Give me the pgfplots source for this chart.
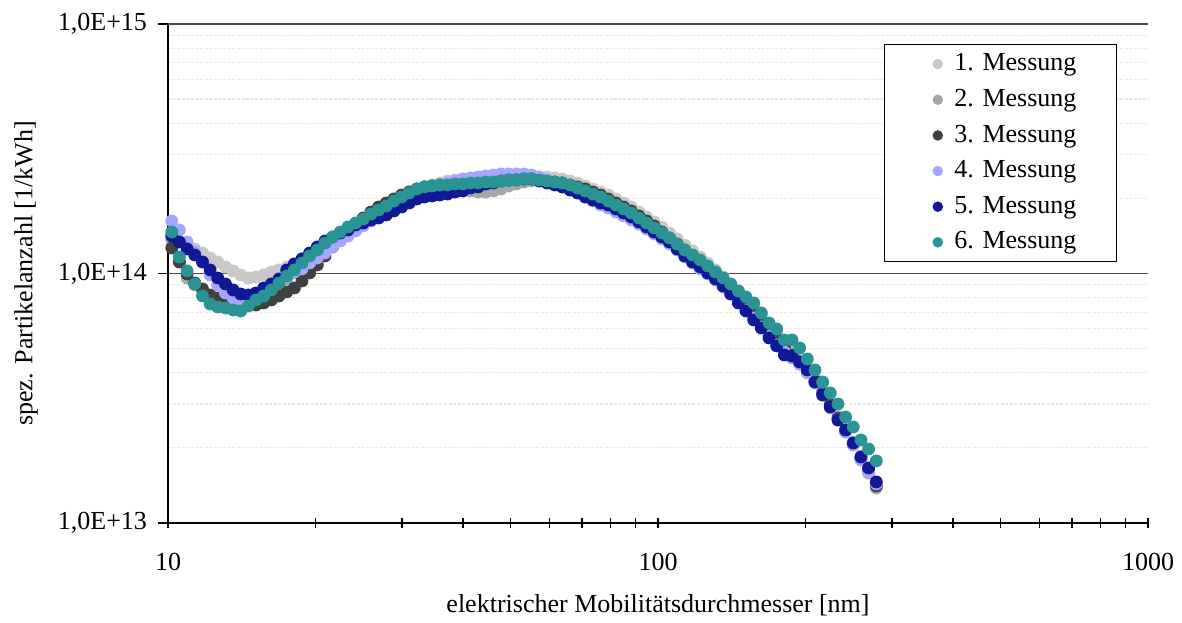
\documentclass[border=0pt]{standalone}
\usepackage{fontspec}
\setmainfont{Liberation Serif}
\usepackage{pgfplots}
\pgfplotsset{compat=1.18}
\usepackage{pgfplotstable}
\definecolor{cA}{HTML}{C8C8C8}
\definecolor{cB}{HTML}{A6A6A6}
\definecolor{cC}{HTML}{404040}
\definecolor{cD}{HTML}{A6A6FF}
\definecolor{cE}{HTML}{101896}
\definecolor{cF}{HTML}{2A9494}
\pgfplotstableread{
d m1 m2 m3 m4 m5 m6
10.18 1.413e14 1.362e14 1.265e14 1.623e14 1.413e14 1.466e14
10.55 1.337e14 1.112e14 1.112e14 1.494e14 1.337e14 1.164e14
10.94 1.289e14 0.9594e14 0.9955e14 1.337e14 1.254e14 1.024e14
11.34 1.253e14 0.8992e14 0.9160e14 1.219e14 1.186e14 0.9075e14
11.76 1.208e14 0.8508e14 0.8666e14 1.112e14 1.112e14 0.8124e14
12.19 1.154e14 0.8124e14 0.8199e14 0.9863e14 1.033e14 0.7547e14
12.63 1.112e14 0.7902e14 0.7975e14 0.8992e14 0.9594e14 0.7341e14
13.10 1.062e14 0.7759e14 0.7831e14 0.8352e14 0.9075e14 0.7273e14
13.58 1.023e14 0.7687e14 0.7687e14 0.7975e14 0.8587e14 0.7140e14
14.07 0.9863e14 0.7617e14 0.7617e14 0.7687e14 0.8275e14 0.7074e14
14.59 0.9594e14 0.7687e14 0.7477e14 0.7759e14 0.8199e14 0.7409e14
15.12 0.9683e14 0.7902e14 0.7477e14 0.8049e14 0.8352e14 0.7831e14
15.68 0.9863e14 0.8199e14 0.7617e14 0.8429e14 0.8748e14 0.8124e14
16.25 1.014e14 0.8587e14 0.7831e14 0.8827e14 0.9075e14 0.8587e14
16.85 1.033e14 0.8992e14 0.8124e14 0.9243e14 0.9505e14 0.9160e14
17.47 1.062e14 0.9505e14 0.8429e14 0.9683e14 1.033e14 0.9773e14
18.11 1.092e14 1.005e14 0.8748e14 1.014e14 1.092e14 1.033e14
18.77 1.133e14 1.072e14 0.9330e14 1.043e14 1.144e14 1.102e14
19.46 1.186e14 1.144e14 1.005e14 1.102e14 1.208e14 1.175e14
20.17 1.242e14 1.219e14 1.082e14 1.154e14 1.277e14 1.242e14
20.91 1.300e14 1.300e14 1.175e14 1.208e14 1.349e14 1.325e14
21.68 1.362e14 1.375e14 1.277e14 1.277e14 1.400e14 1.400e14
22.47 1.427e14 1.440e14 1.375e14 1.349e14 1.453e14 1.466e14
23.30 1.480e14 1.507e14 1.480e14 1.413e14 1.494e14 1.536e14
24.15 1.536e14 1.578e14 1.578e14 1.480e14 1.565e14 1.593e14
25.03 1.608e14 1.653e14 1.669e14 1.550e14 1.593e14 1.653e14
25.95 1.684e14 1.732e14 1.764e14 1.623e14 1.638e14 1.732e14
26.90 1.764e14 1.814e14 1.847e14 1.700e14 1.669e14 1.797e14
27.89 1.830e14 1.898e14 1.916e14 1.764e14 1.715e14 1.865e14
28.91 1.916e14 1.970e14 1.988e14 1.830e14 1.780e14 1.952e14
29.97 1.988e14 2.044e14 2.063e14 1.898e14 1.847e14 2.025e14
31.07 2.063e14 2.121e14 2.121e14 1.970e14 1.916e14 2.102e14
32.20 2.141e14 2.181e14 2.181e14 2.044e14 1.988e14 2.181e14
33.38 2.201e14 2.222e14 2.222e14 2.121e14 2.025e14 2.222e14
34.61 2.263e14 2.242e14 2.242e14 2.181e14 2.044e14 2.242e14
35.87 2.305e14 2.242e14 2.263e14 2.242e14 2.063e14 2.263e14
37.19 2.348e14 2.222e14 2.284e14 2.305e14 2.082e14 2.263e14
38.55 2.370e14 2.201e14 2.305e14 2.348e14 2.121e14 2.284e14
39.96 2.392e14 2.161e14 2.305e14 2.392e14 2.141e14 2.284e14
41.43 2.370e14 2.141e14 2.326e14 2.415e14 2.201e14 2.305e14
42.94 2.348e14 2.121e14 2.326e14 2.437e14 2.222e14 2.305e14
44.52 2.348e14 2.121e14 2.348e14 2.459e14 2.284e14 2.326e14
46.15 2.348e14 2.141e14 2.348e14 2.482e14 2.305e14 2.326e14
47.84 2.370e14 2.181e14 2.370e14 2.505e14 2.348e14 2.348e14
49.59 2.392e14 2.242e14 2.370e14 2.505e14 2.370e14 2.370e14
51.41 2.415e14 2.284e14 2.392e14 2.505e14 2.370e14 2.370e14
53.29 2.437e14 2.326e14 2.392e14 2.505e14 2.392e14 2.392e14
55.24 2.437e14 2.348e14 2.392e14 2.482e14 2.392e14 2.392e14
57.27 2.437e14 2.348e14 2.370e14 2.437e14 2.348e14 2.370e14
59.36 2.437e14 2.348e14 2.348e14 2.370e14 2.305e14 2.348e14
61.54 2.415e14 2.326e14 2.326e14 2.305e14 2.263e14 2.326e14
63.79 2.392e14 2.305e14 2.305e14 2.222e14 2.222e14 2.305e14
66.13 2.348e14 2.263e14 2.263e14 2.161e14 2.161e14 2.263e14
68.55 2.305e14 2.222e14 2.222e14 2.102e14 2.102e14 2.201e14
71.06 2.242e14 2.161e14 2.181e14 2.025e14 2.025e14 2.141e14
73.66 2.181e14 2.102e14 2.121e14 1.952e14 1.970e14 2.082e14
76.36 2.121e14 2.025e14 2.063e14 1.881e14 1.916e14 2.025e14
79.16 2.063e14 1.952e14 1.988e14 1.830e14 1.881e14 1.952e14
82.06 1.988e14 1.881e14 1.916e14 1.764e14 1.814e14 1.881e14
85.06 1.916e14 1.814e14 1.847e14 1.700e14 1.748e14 1.814e14
88.18 1.847e14 1.748e14 1.780e14 1.638e14 1.684e14 1.748e14
91.41 1.764e14 1.669e14 1.700e14 1.578e14 1.608e14 1.669e14
94.75 1.684e14 1.593e14 1.623e14 1.507e14 1.536e14 1.593e14
98.22 1.608e14 1.522e14 1.550e14 1.440e14 1.466e14 1.522e14
101.8 1.536e14 1.440e14 1.466e14 1.375e14 1.400e14 1.453e14
105.5 1.453e14 1.362e14 1.388e14 1.313e14 1.337e14 1.388e14
109.4 1.375e14 1.289e14 1.313e14 1.242e14 1.254e14 1.313e14
113.4 1.300e14 1.219e14 1.242e14 1.164e14 1.175e14 1.242e14
117.6 1.231e14 1.154e14 1.175e14 1.102e14 1.112e14 1.186e14
121.9 1.164e14 1.092e14 1.112e14 1.043e14 1.062e14 1.133e14
126.3 1.102e14 1.033e14 1.043e14 0.9955e14 1.005e14 1.072e14
131.0 1.033e14 0.9683e14 0.9863e14 0.9417e14 0.9505e14 1.014e14
135.8 0.9683e14 0.9075e14 0.9243e14 0.8827e14 0.8909e14 0.9594e14
140.7 0.9075e14 0.8508e14 0.8666e14 0.8275e14 0.8275e14 0.9075e14
145.9 0.8508e14 0.7902e14 0.8049e14 0.7687e14 0.7617e14 0.8508e14
151.2 0.7902e14 0.7341e14 0.7477e14 0.7140e14 0.7074e14 0.8049e14
156.8 0.7341e14 0.6818e14 0.6945e14 0.6631e14 0.6511e14 0.7617e14
162.5 0.6818e14 0.6275e14 0.6451e14 0.6103e14 0.6047e14 0.6945e14
168.5 0.6275e14 0.5775e14 0.5937e14 0.5617e14 0.5517e14 0.6333e14
174.7 0.5775e14 0.5315e14 0.5463e14 0.5170e14 0.5123e14 0.5992e14
181.1 0.5315e14 0.4937e14 0.5076e14 0.4846e14 0.4714e14 0.5415e14
187.7 0.4937e14 0.4628e14 0.4714e14 0.4585e14 0.4671e14 0.5415e14
194.6 0.4585e14 0.4337e14 0.4418e14 0.4337e14 0.4418e14 0.5030e14
201.7 0.4219e14 0.4029e14 0.4067e14 0.3993e14 0.4105e14 0.4543e14
209.1 0.3813e14 0.3673e14 0.3708e14 0.3640e14 0.3673e14 0.4105e14
216.8 0.3412e14 0.3288e14 0.3319e14 0.3258e14 0.3258e14 0.3673e14
224.7 0.3027e14 0.2944e14 0.2971e14 0.2890e14 0.2917e14 0.3319e14
233.0 0.2684e14 0.2611e14 0.2635e14 0.2587e14 0.2587e14 0.2999e14
241.5 0.2381e14 0.2315e14 0.2337e14 0.2315e14 0.2359e14 0.2659e14
250.3 0.2111e14 0.2054e14 0.2073e14 0.2054e14 0.2092e14 0.2425e14
259.5 0.1856e14 0.1805e14 0.1822e14 0.1789e14 0.1839e14 0.2151e14
269.0 0.1631e14 0.1586e14 0.1616e14 0.1601e14 0.1662e14 0.1979e14
278.9 0.1394e14 0.1381e14 0.1407e14 0.1433e14 0.1460e14 0.1773e14
}\data
\begin{document}
\fontsize{13}{15.6}\selectfont
\begin{tikzpicture}
\begin{axis}[
  xmode=log, ymode=log,
  scale only axis, width=490pt, height=249.5pt,
  xmin=10, xmax=1000, ymin=1e13, ymax=1e15,
  axis x line=bottom, axis y line=left,
  axis line style={-, black, line width=0.75pt},
  every tick/.style={black, line width=0.75pt},
  xtick={10,100,1000}, xticklabels={10,100,1000},
  ytick={1e13,1e14,1e15}, yticklabels={{1,0E+13},{1,0E+14},{1,0E+15}},
  extra x ticks={20,30,40,50,60,70,80,90,200,300,400,500,600,700,800,900},
  extra x tick labels={},
  extra y ticks={1e14,1e15}, extra y tick labels={},
  extra y tick style={grid=major, major grid style={black!70, line width=0.65pt}},
  major tick length=5pt, minor tick length=0pt,
  xtick align=center, ytick align=outside,
  yminorgrids=true,
  minor grid style={dash pattern=on 1.5pt off 0.8pt, black!9, line width=0.6pt},
  xticklabel style={yshift=-8pt},
  yticklabel style={xshift=-1pt},
  xlabel={elektrischer Mobilitätsdurchmesser [nm]},
  ylabel={spez. Partikelanzahl [1/kWh]},
  xlabel style={at={(axis description cs:0.5,-0.1643)}, anchor=center},
  ylabel style={at={(axis description cs:-0.1449,0.5)}, anchor=center},
  legend style={at={(axis description cs:0.9684,0.96)}, anchor=north east,
    draw=black, line width=0.6pt, fill=white, inner xsep=18pt, inner ysep=3pt,
    row sep=4.3pt, column sep=4pt, nodes={inner xsep=2pt, inner ysep=1.5pt}},
  legend cell align=left,
  legend image code/.code={\path (-5.5pt,0pt); \draw[#1, mark size=2.3pt] plot coordinates {(0.1cm,0cm)};},
]
\addplot[only marks, mark=*, mark size=3pt, color=cA, mark options={draw=none}] table[x=d, y=m1] {\data};
\addplot[only marks, mark=*, mark size=3pt, color=cB, mark options={draw=none}] table[x=d, y=m2] {\data};
\addplot[only marks, mark=*, mark size=3pt, color=cC, mark options={draw=none}] table[x=d, y=m3] {\data};
\addplot[only marks, mark=*, mark size=3pt, color=cD, mark options={draw=none}] table[x=d, y=m4] {\data};
\addplot[only marks, mark=*, mark size=3pt, color=cE, mark options={draw=none}] table[x=d, y=m5] {\data};
\addplot[only marks, mark=*, mark size=3pt, color=cF, mark options={draw=none}] table[x=d, y=m6] {\data};
\legend{1. Messung, 2. Messung, 3. Messung, 4. Messung, 5. Messung, 6. Messung}
\end{axis}
\pgfresetboundingbox
\path (-84pt,-49.5pt) rectangle (507pt,261.5pt);
\end{tikzpicture}
\end{document}
